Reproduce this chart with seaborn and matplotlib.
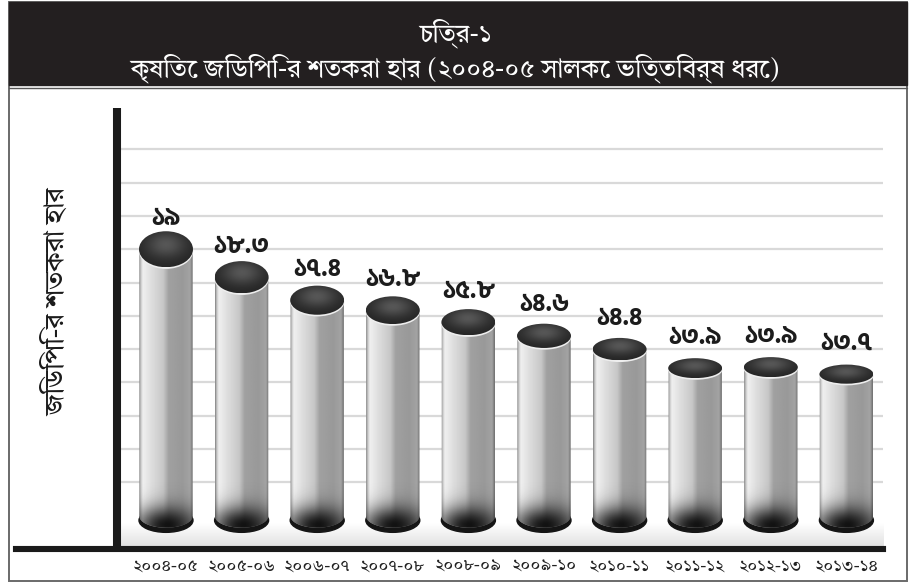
import numpy as np
import pandas as pd
import matplotlib
matplotlib.use("Agg")
import matplotlib.pyplot as plt
import seaborn as sns
from matplotlib.patches import Ellipse, Polygon, Rectangle

title_top = "চিত্র-১"
title_main = "কৃষিতে জিডিপি-র শতকরা হার (২০০৪-০৫ সালকে ভিত্তিবর্ষ ধরে)"
ylabel = "জিডিপি-র শতকরা হার"
years = ["২০০৪-০৫", "২০০৫-০৬", "২০০৬-০৭", "২০০৭-০৮", "২০০৮-০৯",
         "২০০৯-১০", "২০১০-১১", "২০১১-১২", "২০১২-১৩", "২০১৩-১৪"]
value_labels = ["১৯", "১৮.৩", "১৭.৪", "১৬.৮", "১৫.৮", "১৪.৬", "১৪.৪", "১৩.৯", "১৩.৯", "১৩.৭"]
# the drawn heights do not follow the printed numbers, so read them in grid steps
bar_heights = [8.0, 7.16, 6.47, 6.17, 5.81, 5.4, 5.0, 4.43, 4.46, 4.25]
grid_levels = [1, 2, 3, 4, 5, 6, 7, 8, 9, 10, 11]

W, H = 923, 583
BANGLA = ["Tiro Bangla", "Noto Serif Bengali", "DejaVu Sans"]
BANGLA_BOLD = ["Hind Siliguri", "Noto Sans Bengali", "DejaVu Sans"]
sns.set_theme(style="white")
plt.rcParams["font.family"] = BANGLA

fig = plt.figure(figsize=(W / 100, H / 100), dpi=100)
# axes spans the plot area in pixels: x 16-883, y 108-549
ax = fig.add_axes([16 / W, 1 - 549 / H, (883 - 16) / W, (549 - 108) / H])

df = pd.DataFrame({"year": years, "height": bar_heights})
sns.barplot(data=df, x="year", y="height", width=0.714, color="#b0b2b2", ax=ax, zorder=3)

xlim = (-1.984, 9.484)
ylim = (-1.0, 12.24)
base_y = -0.14

ax.hlines(grid_levels, -0.6, 9.48, color="#d9d9d9", lw=1.6, zorder=1)

# floor shade above the x axis
ax.imshow(np.linspace(0.88, 1, 32).reshape(-1, 1), extent=(-0.6, 9.48, -0.95, -0.2),
          cmap="gray", vmin=0, vmax=1, aspect="auto", origin="lower", zorder=1.5)

# left to right shading of a cylinder
stops = np.array([0, 0.03, 0.07, 0.2, 0.45, 0.55, 0.8, 0.95, 1.0])
greys = np.array([0.52, 0.78, 0.94, 0.88, 0.78, 0.63, 0.60, 0.64, 0.44])
side = np.interp(np.linspace(0, 1, 120), stops, greys).reshape(1, -1)

for i, bar in enumerate(list(ax.patches)):
    x0, w, top = bar.get_x(), bar.get_width(), bar.get_height()
    xc = x0 + w / 2
    bar.set_visible(False)

    # black rim at the foot
    ax.add_patch(Ellipse((xc, base_y), w, 0.72, color="#151515", zorder=3))
    t = np.linspace(np.pi, 2 * np.pi, 50)
    foot = np.column_stack([xc + (w / 2 - 0.004) * np.cos(t), base_y + 0.12 + 0.34 * np.sin(t)])
    outline = np.vstack([[[x0 + 0.004, top]], foot, [[x0 + w - 0.004, top]]])
    clip = Polygon(outline, closed=True, transform=ax.transData, fc="none", ec="none")
    ax.add_patch(clip)

    body = ax.imshow(side, extent=(x0, x0 + w, -0.6, top), cmap="gray", vmin=0, vmax=1,
                     aspect="auto", zorder=3.1)
    body.set_clip_path(clip)

    # dark pool at the bottom of the cylinder
    gx, gy = np.meshgrid(np.linspace(-1, 1, 80), np.linspace(-0.6, 1.2, 80))
    shade = np.zeros((80, 80, 4))
    shade[..., 3] = np.clip(0.9 * np.exp(-(gx ** 2 / 1.3 + (gy + 0.25) ** 2 / 0.4)), 0, 1)
    pool = ax.imshow(shade, extent=(x0, x0 + w, -0.6, 1.0), aspect="auto", origin="lower", zorder=3.2)
    pool.set_clip_path(clip)

    # cap, gets flatter as the bars get shorter
    cap_h = 0.135 * top
    ax.add_patch(Ellipse((xc, top - 0.05), w + 0.004, cap_h, fc="#eeeeee", ec="none", zorder=3.3))
    cap = Ellipse((xc, top), w, cap_h, fc="none", ec="none", transform=ax.transData)
    ax.add_patch(cap)
    gx, gy = np.meshgrid(np.linspace(-1, 1, 80), np.linspace(-1, 1, 80))
    tone = 0.14 + 0.2 * np.exp(-(gx ** 2 + (gy - 0.25) ** 2) / 0.55)
    cap_img = ax.imshow(tone, extent=(x0, x0 + w, top - cap_h / 2, top + cap_h / 2), cmap="gray",
                        vmin=0, vmax=1, aspect="auto", origin="lower", zorder=3.4)
    cap_img.set_clip_path(cap)

    ax.annotate(value_labels[i], (xc, top), xytext=(0, 31), textcoords="offset pixels",
                ha="center", va="center", fontsize=18, fontweight="bold", color="#1c1c1c",
                family=BANGLA_BOLD, zorder=5)

ax.set_xlim(xlim)
ax.set_ylim(ylim)
ax.axvline(-0.648, color="#1a1a1a", lw=5.8, solid_capstyle="butt", zorder=4)
ax.set_yticks([])
ax.set_xlabel("")
ax.set_ylabel("")
ax.tick_params(axis="x", length=0, pad=7, labelsize=12.5, labelcolor="#222222")
for name, spine in ax.spines.items():
    spine.set_visible(name == "bottom")
ax.spines["bottom"].set_color("#1a1a1a")
ax.spines["bottom"].set_linewidth(4.4)
ax.spines["bottom"].set_zorder(4)

# outer frame and title band, placed in pixels from the top left
ov = fig.add_axes([0, 0, 1, 1], zorder=-1)
ov.set_xlim(0, W)
ov.set_ylim(H, 0)
ov.axis("off")
ov.add_patch(Rectangle((9, 2), 898, 579, fc="white", ec="#6a6a6a", lw=1.4))
ov.add_patch(Rectangle((9, 2), 898, 83, fc="#231f20", ec="#231f20"))
ov.plot([9, 907], [87.5, 87.5], color="#555555", lw=1.0)

fig.text(455 / W, 1 - 33 / H, title_top, color="white", fontsize=18.5, ha="center", va="center")
fig.text(455 / W, 1 - 68 / H, title_main, color="white", fontsize=18.5, ha="center", va="center")
fig.text(58 / W, 1 - 302 / H, ylabel, color="#1a1a1a", fontsize=19.5, rotation=90, ha="center", va="center")

fig.savefig("out.png", dpi=100)
